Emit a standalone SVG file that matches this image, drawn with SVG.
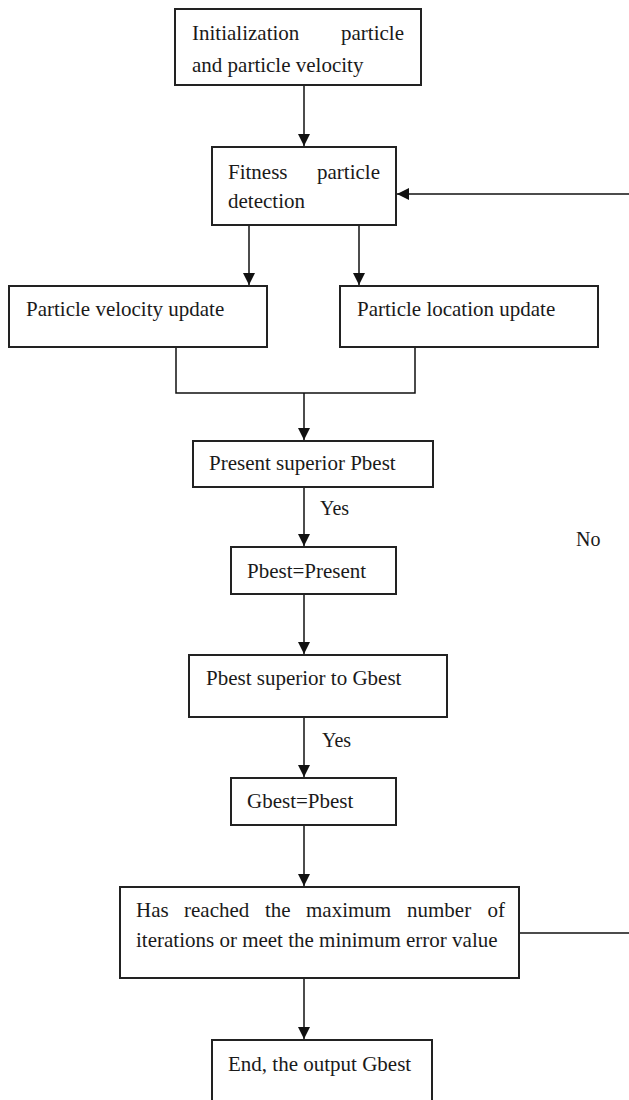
<svg xmlns="http://www.w3.org/2000/svg" width="629" height="1100" viewBox="0 0 629 1100" font-family="Liberation Serif, DejaVu Serif, serif">
<style>
.box{fill:#fff;stroke:#222;stroke-width:2}
.t{font-size:21px;fill:#1a1a1a}
.lbl{font-size:20px;fill:#1a1a1a}
.ln{fill:none;stroke:#111;stroke-width:1.5}
</style>
<defs>
<marker id="ah" markerUnits="userSpaceOnUse" viewBox="0 0 12 12" refX="12" refY="6" markerWidth="12" markerHeight="12" orient="auto">
<path d="M0,0 L12,6 L0,12 z" fill="#111"/>
</marker>
</defs>
<rect x="0" y="0" width="629" height="1100" fill="#fff"/>
<g id="connectors">
<line class="ln" x1="304" y1="85" x2="304" y2="146" marker-end="url(#ah)"/>
<line class="ln" x1="629" y1="194" x2="397" y2="194" marker-end="url(#ah)"/>
<line class="ln" x1="249" y1="225" x2="249" y2="285" marker-end="url(#ah)"/>
<line class="ln" x1="359" y1="225" x2="359" y2="285" marker-end="url(#ah)"/>
<polyline class="ln" points="176,347 176,393 415,393 415,347"/>
<line class="ln" x1="304" y1="393" x2="304" y2="440" marker-end="url(#ah)"/>
<line class="ln" x1="304" y1="487" x2="304" y2="546" marker-end="url(#ah)"/>
<line class="ln" x1="304" y1="594" x2="304" y2="654" marker-end="url(#ah)"/>
<line class="ln" x1="304" y1="717" x2="304" y2="777" marker-end="url(#ah)"/>
<line class="ln" x1="304" y1="825" x2="304" y2="886" marker-end="url(#ah)"/>
<line class="ln" x1="519" y1="933" x2="629" y2="933"/>
<line class="ln" x1="304" y1="978" x2="304" y2="1039" marker-end="url(#ah)"/>
<text class="lbl" x="320" y="515">Yes</text>
<text class="lbl" x="322" y="747">Yes</text>
<text class="lbl" x="576" y="546">No</text>
</g>
<g id="init">
<rect class="box" x="175" y="9" width="246" height="76"/>
<text class="t" x="192" y="40">Initialization</text>
<text class="t" x="404" y="40" text-anchor="end">particle</text>
<text class="t" x="192" y="72">and particle velocity</text>
</g>
<g id="fitness">
<rect class="box" x="212" y="147" width="184" height="78"/>
<text class="t" x="228" y="179">Fitness</text>
<text class="t" x="380" y="179" text-anchor="end">particle</text>
<text class="t" x="228" y="208">detection</text>
</g>
<g id="velocity">
<rect class="box" x="9" y="286" width="258" height="61"/>
<text class="t" x="26" y="316">Particle velocity update</text>
</g>
<g id="location">
<rect class="box" x="340" y="286" width="258" height="61"/>
<text class="t" x="357" y="316">Particle location update</text>
</g>
<g id="present">
<rect class="box" x="193" y="441" width="240" height="46"/>
<text class="t" x="209" y="470">Present superior Pbest</text>
</g>
<g id="pbest">
<rect class="box" x="231" y="547" width="165" height="47"/>
<text class="t" x="247" y="578">Pbest=Present</text>
</g>
<g id="pbest-gbest">
<rect class="box" x="189" y="655" width="258" height="62"/>
<text class="t" x="206" y="685">Pbest superior to Gbest</text>
</g>
<g id="gbest">
<rect class="box" x="231" y="778" width="165" height="47"/>
<text class="t" x="247" y="808">Gbest=Pbest</text>
</g>
<g id="check">
<rect class="box" x="120" y="887" width="399" height="91"/>
<text class="t" y="917"><tspan x="136">Has</tspan><tspan x="184">reached</tspan><tspan x="265">the</tspan><tspan x="306">maximum</tspan><tspan x="407">number</tspan><tspan x="505" text-anchor="end">of</tspan></text>
<text class="t" x="136" y="947">iterations or meet the minimum error value</text>
</g>
<g id="end">
<rect class="box" x="212" y="1040" width="220" height="70"/>
<text class="t" x="228" y="1071">End, the output Gbest</text>
</g>
</svg>
